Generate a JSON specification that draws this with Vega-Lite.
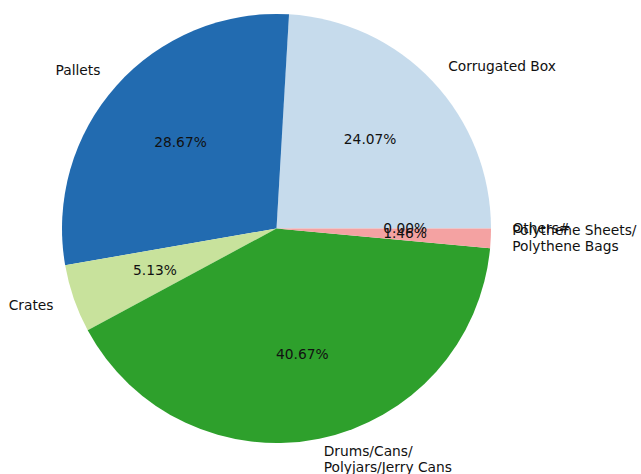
{
  "$schema": "https://vega.github.io/schema/vega-lite/v6.json",
  "width": 553,
  "height": 457,
  "autosize": {"type": "none"},
  "padding": {"left": 0, "top": 0, "right": 88, "bottom": 17},
  "background": "white",
  "config": {"view": {"stroke": null}, "font": "DejaVu Sans"},
  "data": {
    "values": [
      {"category": "Corrugated Box", "label": "Corrugated Box", "value": 24.07, "order": 1},
      {"category": "Pallets", "label": "Pallets", "value": 28.67, "order": 2},
      {"category": "Crates", "label": "Crates", "value": 5.13, "order": 3},
      {"category": "Drums/Cans/Polyjars/Jerry Cans", "label": "Drums/Cans/\nPolyjars/Jerry Cans", "value": 40.67, "order": 4},
      {"category": "Polythene Sheets/Polythene Bags", "label": "Polythene Sheets/\nPolythene Bags", "value": 1.46, "order": 5},
      {"category": "Others#", "label": "Others#", "value": 0.0, "order": 6}
    ]
  },
  "transform": [
    {"window": [{"op": "sum", "field": "value", "as": "cum"}], "sort": [{"field": "order"}], "frame": [null, 0]},
    {"calculate": "datum.cum - datum.value / 2", "as": "mid"},
    {"calculate": "format(datum.value, '.2f') + '%'", "as": "pct"}
  ],
  "layer": [
    {
      "mark": {"type": "arc", "outerRadius": 214.5},
      "encoding": {
        "theta": {"field": "value", "type": "quantitative", "stack": true, "scale": {"domain": [0, 100], "range": [1.5707963, -4.7123890]}},
        "order": {"field": "order", "type": "quantitative"},
        "color": {
          "field": "category", "type": "nominal", "legend": null,
          "scale": {
            "domain": ["Corrugated Box", "Pallets", "Crates", "Drums/Cans/Polyjars/Jerry Cans", "Polythene Sheets/Polythene Bags", "Others#"],
            "range": ["#c6dbec", "#226bb0", "#c8e29c", "#2ea02c", "#f4a2a2", "#e31a1c"]
          }
        }
      }
    },
    {
      "mark": {"type": "text", "radius": 128.7, "fontSize": 13.8, "color": "#111", "align": "center", "baseline": "middle"},
      "encoding": {
        "theta": {"field": "mid", "type": "quantitative", "stack": null},
        "text": {"field": "pct"}
      }
    },
    {
      "transform": [{"filter": "(datum.mid < 25 || datum.mid > 75) && indexof(datum.label, '\\n') >= 0"}],
      "mark": {"type": "text", "radius": 236, "fontSize": 13.8, "color": "#111", "align": "left", "baseline": "middle", "lineBreak": "\n", "lineHeight": 16, "dy": -8},
      "encoding": {
        "theta": {"field": "mid", "type": "quantitative", "stack": null},
        "text": {"field": "label"}
      }
    },
    {
      "transform": [{"filter": "(datum.mid < 25 || datum.mid > 75) && indexof(datum.label, '\\n') < 0"}],
      "mark": {"type": "text", "radius": 236, "fontSize": 13.8, "color": "#111", "align": "left", "baseline": "middle"},
      "encoding": {
        "theta": {"field": "mid", "type": "quantitative", "stack": null},
        "text": {"field": "label"}
      }
    },
    {
      "transform": [{"filter": "datum.mid >= 25 && datum.mid <= 75"}],
      "mark": {"type": "text", "radius": 236, "fontSize": 13.8, "color": "#111", "align": "right", "baseline": "middle"},
      "encoding": {
        "theta": {"field": "mid", "type": "quantitative", "stack": null},
        "text": {"field": "label"}
      }
    }
  ]
}
